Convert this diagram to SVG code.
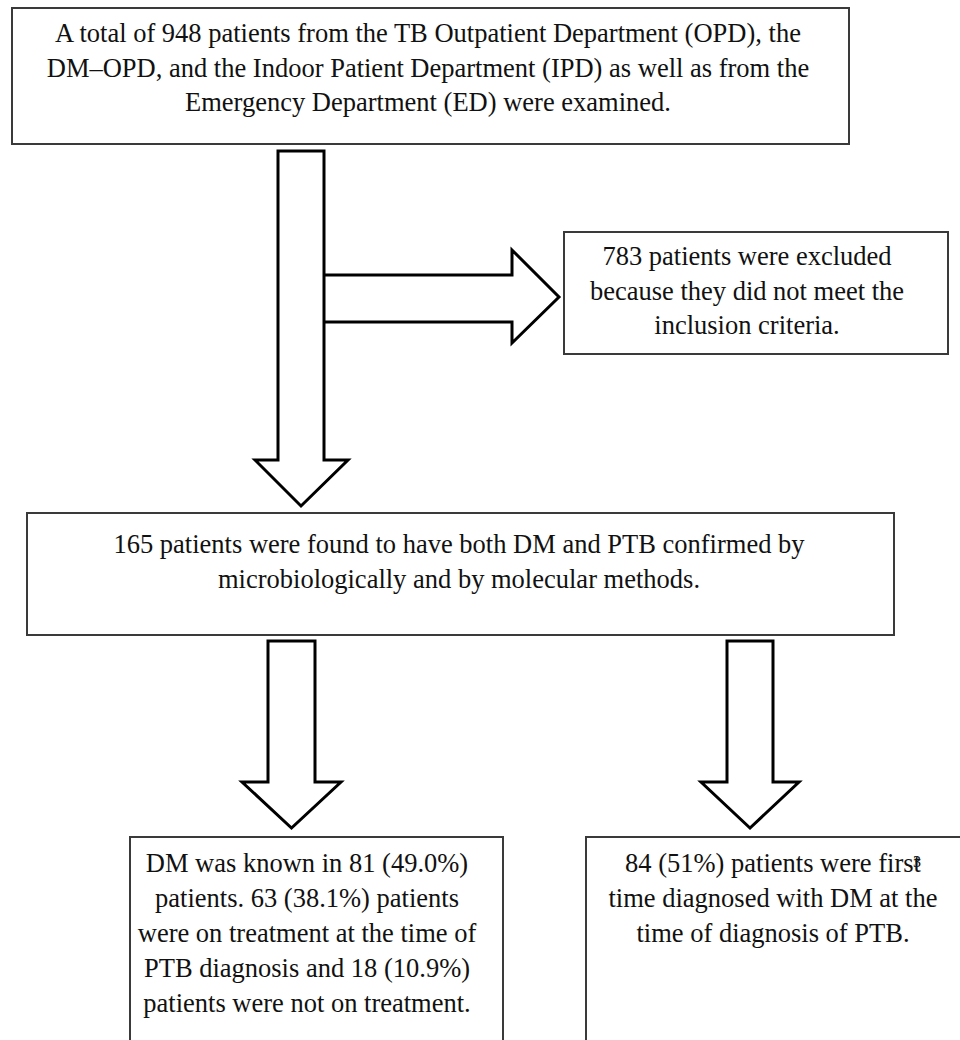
<svg xmlns="http://www.w3.org/2000/svg" width="960" height="1040" viewBox="0 0 960 1040">
  <style>
    .box { fill: #ffffff; stroke: #3a3a3a; stroke-width: 2; }
    .t { font-family: "Liberation Serif", "Times New Roman", serif; font-size: 26.5px; fill: #111111; text-anchor: middle; }
    .arrow { fill: #ffffff; stroke: #000000; stroke-width: 3; stroke-linejoin: miter; }
    .branch { fill: none; stroke: #000000; stroke-width: 3; stroke-linejoin: miter; }
  </style>
  <rect x="0" y="0" width="960" height="1040" fill="#ffffff"/>

  <g id="connectors">
    <path class="arrow" d="M278,151 H324 V460 H348 L301,506 L255,460 H278 Z"/>
    <path class="branch" d="M324,275 H512 V250 L559,297 L512,343 V322 H324"/>
    <path class="arrow" d="M268,641 H315 V782 H341 L291.5,828 L242,782 H268 Z"/>
    <path class="arrow" d="M727,641 H773 V782 H799 L750,828 L701,782 H727 Z"/>
  </g>

  <g id="node-total">
    <rect class="box" x="12" y="8" width="837" height="136"/>
    <text class="t" x="428" y="42">A total of 948 patients from the TB Outpatient Department (OPD), the</text>
    <text class="t" x="428" y="76.5">DM–OPD, and the Indoor Patient Department (IPD) as well as from the</text>
    <text class="t" x="428" y="111">Emergency Department (ED) were examined.</text>
  </g>

  <g id="node-excluded">
    <rect class="box" x="564" y="232" width="384" height="122"/>
    <text class="t" x="747" y="265">783 patients were excluded</text>
    <text class="t" x="747" y="299.5">because they did not meet the</text>
    <text class="t" x="747" y="334">inclusion criteria.</text>
  </g>

  <g id="node-confirmed">
    <rect class="box" x="27" y="513" width="867" height="122"/>
    <text class="t" x="459" y="553">165 patients were found to have both DM and PTB confirmed by</text>
    <text class="t" x="459" y="587.5">microbiologically and by molecular methods.</text>
  </g>

  <g id="node-known">
    <rect class="box" x="130" y="837" width="373" height="230"/>
    <text class="t" x="307" y="872">DM was known in 81 (49.0%)</text>
    <text class="t" x="307" y="907">patients. 63 (38.1%) patients</text>
    <text class="t" x="307" y="942">were on treatment at the time of</text>
    <text class="t" x="307" y="977">PTB diagnosis and 18 (10.9%)</text>
    <text class="t" x="307" y="1012">patients were not on treatment.</text>
  </g>

  <g id="node-new">
    <rect class="box" x="586" y="837" width="390" height="230"/>
    <text class="t" x="773" y="872">84 (51%) patients were first<tspan dx="-8" dy="-5" style="font-size:16px">3</tspan></text>
    <text class="t" x="773" y="907">time diagnosed with DM at the</text>
    <text class="t" x="773" y="942">time of diagnosis of PTB.</text>
  </g>
</svg>
